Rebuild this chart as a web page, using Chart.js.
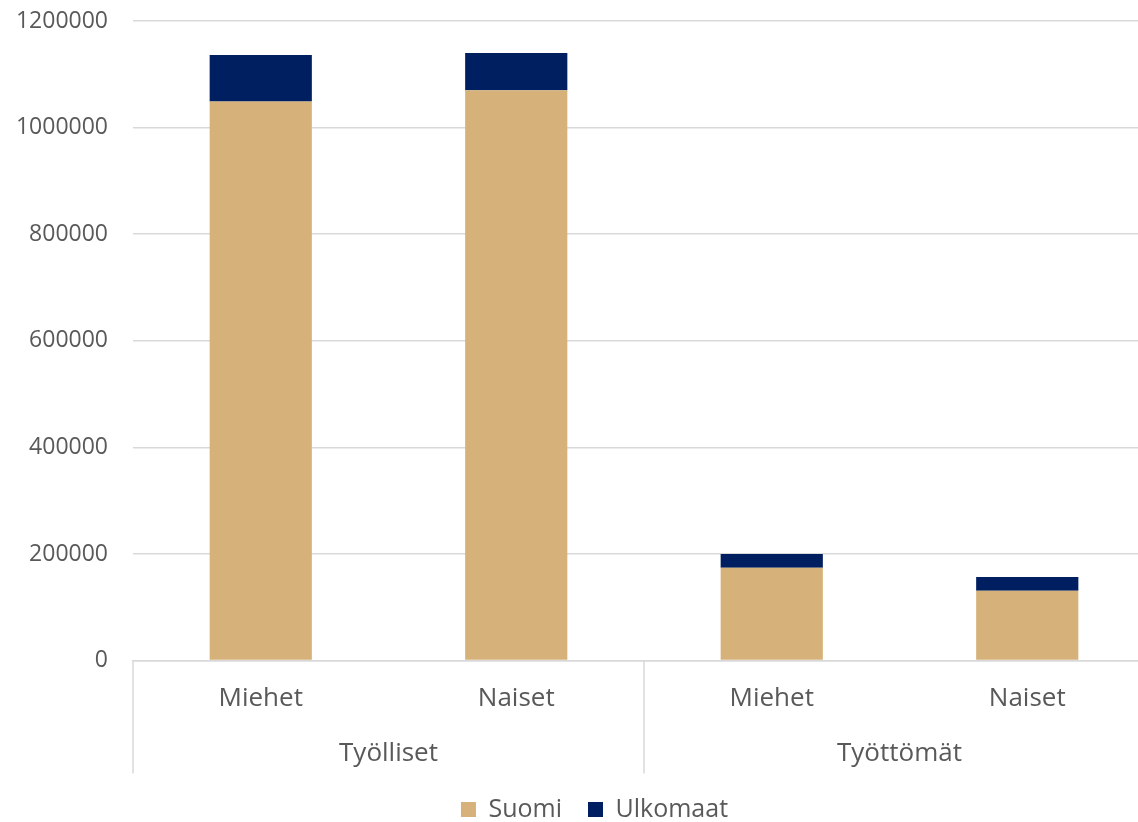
<!DOCTYPE html>
<html>
<head>
<meta charset="utf-8">
<script src="https://cdn.jsdelivr.net/npm/chart.js@4.4.1/dist/chart.umd.min.js"></script>
<style>
  html, body { margin: 0; padding: 0; background: #fff; overflow: hidden; }
  #wrap { width: 1190px; height: 822px; }
</style>
</head>
<body>
<div id="wrap"><canvas id="chart"></canvas></div>
<script>
// Data
const categories = ['Miehet', 'Naiset', 'Miehet', 'Naiset'];
const groups = ['Työlliset', 'Työttömät'];
const suomi = [1049000, 1070000, 174000, 131000];
const ulkomaat = [87000, 70000, 26000, 26000];
const yTicks = [0, 200000, 400000, 600000, 800000, 1000000, 1200000];

const textColor = '#595959';
const gridColor = '#d9d9d9';
const fontFamily = '"Open Sans", sans-serif';

// Draws the vertical separators below the axis, between the two groups,
// and nudges the legend so it is centred on the whole (wider) chart
const groupLines = {
  id: 'groupLines',
  afterLayout(chart) {
    chart.legend.left += 17;
    chart.legend.right += 17;
  },
  afterDraw(chart) {
    const x = chart.scales.x;
    const area = chart.chartArea;
    const ctx = chart.ctx;
    const mid = (x.getPixelForValue(1) + x.getPixelForValue(2)) / 2;
    ctx.save();
    ctx.strokeStyle = gridColor;
    ctx.lineWidth = 1.5;
    [area.left, mid, area.right].forEach(function(px) {
      ctx.beginPath();
      ctx.moveTo(px, area.bottom);
      ctx.lineTo(px, area.bottom + 113);
      ctx.stroke();
    });
    ctx.restore();
  }
};

const ctx = document.getElementById('chart').getContext('2d');
new Chart(ctx, {
  type: 'bar',
  data: {
    labels: categories,
    datasets: [{
      label: 'Suomi',
      data: suomi,
      backgroundColor: '#d6b27a',
      barPercentage: 0.4,
      categoryPercentage: 1
    }, {
      label: 'Ulkomaat',
      data: ulkomaat,
      backgroundColor: '#001f60',
      barPercentage: 0.4,
      categoryPercentage: 1
    }]
  },
  options: {
    responsive: true,
    maintainAspectRatio: false,
    animation: false,
    layout: {
      padding: { left: 0, right: 35, top: 0, bottom: -10 }
    },
    plugins: {
      tooltip: { enabled: false },
      legend: {
        position: 'bottom',
        labels: {
          color: textColor,
          boxWidth: 15,
          boxHeight: 15,
          padding: 26,
          font: { family: fontFamily, size: 25 }
        }
      }
    },
    scales: {
      x: {
        stacked: true,
        grid: { display: false },
        border: { color: gridColor, width: 1.5 },
        ticks: {
          color: textColor,
          padding: 14,
          font: { family: fontFamily, size: 26 }
        }
      },
      x2: {
        type: 'category',
        labels: groups,
        position: 'bottom',
        offset: true,
        grid: { display: false },
        border: { display: false },
        ticks: {
          color: textColor,
          padding: 2,
          font: { family: fontFamily, size: 26 }
        }
      },
      y: {
        stacked: true,
        min: 0,
        max: 1200000,
        afterBuildTicks: function(scale) {
          scale.ticks = yTicks.map(v => ({ value: v }));
        },
        afterFit: function(scale) {
          scale.width = 133;
          scale.paddingTop = 21;
          scale.paddingBottom = 0;
        },
        grid: { color: gridColor, lineWidth: 1.5, drawTicks: false },
        border: { display: false },
        ticks: {
          color: textColor,
          padding: 25,
          font: { family: fontFamily, size: 23 },
          callback: function(value) {
            return String(value);
          }
        }
      }
    }
  },
  plugins: [groupLines]
});
</script>
</body>
</html>
